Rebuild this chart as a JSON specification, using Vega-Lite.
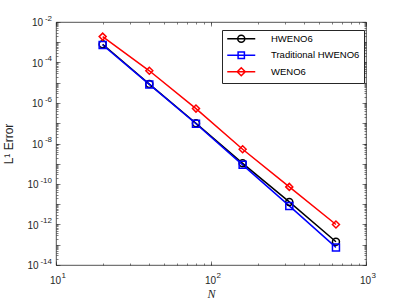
{
  "$schema": "https://vega.github.io/schema/vega-lite/v6.json",
  "width": 310,
  "height": 243,
  "autosize": {"type": "none"},
  "padding": {"left": 56, "top": 22, "right": 39, "bottom": 39},
  "background": "white",
  "config": {
    "view": {"stroke": "#262626", "strokeWidth": 0.8},
    "axis": {
      "domain": false,
      "grid": false,
      "labelFont": "Liberation Sans",
      "labelFontSize": 10,
      "labelColor": "#262626",
      "labelOverlap": false,
      "labelFlush": false,
      "labelBound": false,
      "tickColor": "#262626",
      "tickWidth": 0.6,
      "titleFont": "Liberation Sans",
      "titleFontWeight": "normal",
      "titleColor": "#262626"
    }
  },
  "data": {
    "values": [
      {"N": 20, "err": 8.0e-4, "method": "HWENO6"},
      {"N": 40, "err": 8.6e-6, "method": "HWENO6"},
      {"N": 80, "err": 1.0e-7, "method": "HWENO6"},
      {"N": 160, "err": 1.05e-9, "method": "HWENO6"},
      {"N": 320, "err": 1.3e-11, "method": "HWENO6"},
      {"N": 640, "err": 1.4e-13, "method": "HWENO6"},
      {"N": 20, "err": 7.3e-4, "method": "Traditional HWENO6"},
      {"N": 40, "err": 8.3e-6, "method": "Traditional HWENO6"},
      {"N": 80, "err": 9.5e-8, "method": "Traditional HWENO6"},
      {"N": 160, "err": 8.8e-10, "method": "Traditional HWENO6"},
      {"N": 320, "err": 8.3e-12, "method": "Traditional HWENO6"},
      {"N": 640, "err": 7.4e-14, "method": "Traditional HWENO6"},
      {"N": 20, "err": 1.9e-3, "method": "WENO6"},
      {"N": 40, "err": 3.9e-5, "method": "WENO6"},
      {"N": 80, "err": 5.3e-7, "method": "WENO6"},
      {"N": 160, "err": 5.2e-9, "method": "WENO6"},
      {"N": 320, "err": 7.2e-11, "method": "WENO6"},
      {"N": 640, "err": 1.0e-12, "method": "WENO6"}
    ]
  },
  "layer": [
    {
      "mark": {"type": "point", "opacity": 0},
      "encoding": {
        "x": {"field": "N", "type": "quantitative",
          "scale": {"type": "log", "domain": [10, 1000], "nice": false},
          "axis": {"orient": "bottom", "tickCount": 20, "labels": false, "tickSize": -2, "title": null}},
        "y": {"field": "err", "type": "quantitative",
          "scale": {"type": "log", "domain": [1e-14, 1e-2], "nice": false},
          "axis": {"orient": "left", "tickCount": 100, "labels": false, "tickSize": -2, "title": null}}
      }
    },
    {
      "mark": {"type": "point", "opacity": 0},
      "encoding": {
        "x": {"field": "N", "type": "quantitative",
          "axis": {"orient": "top", "tickCount": 20, "labels": false, "tickSize": -2, "title": null}},
        "y": {"field": "err", "type": "quantitative",
          "axis": {"orient": "right", "tickCount": 100, "labels": false, "tickSize": -2, "title": null}}
      }
    },
    {
      "mark": {"type": "point", "opacity": 0},
      "encoding": {
        "x": {"field": "N", "type": "quantitative",
          "axis": {"orient": "bottom", "values": [10, 100, 1000], "ticks": false, "tickSize": 0,
            "labelFontSize": 8, "labelAlign": "left", "labelBaseline": "alphabetic", "labelPadding": 12.5, "labelOffset": 5,
            "labelExpr": "'' + round(log(datum.value)/LN10)", "title": null}},
        "y": {"field": "err", "type": "quantitative",
          "axis": {"orient": "left", "values": [1e-14, 1e-12, 1e-10, 1e-8, 1e-6, 1e-4, 1e-2], "ticks": false, "tickSize": 0,
            "labelFontSize": 8, "labelAlign": "right", "labelBaseline": "middle", "labelPadding": 4.5, "labelOffset": -4,
            "labelExpr": "'-' + abs(round(log(datum.value)/LN10))", "title": null}}
      }
    },
    {
      "mark": {"type": "line", "strokeWidth": 1.5},
      "encoding": {
        "x": {"field": "N", "type": "quantitative",
          "axis": {"orient": "bottom", "values": [10, 100, 1000], "tickSize": -4, "labelPadding": 22,
            "labelAlign": "center", "labelBaseline": "alphabetic", "labelOffset": -1,
            "labelExpr": "'10'",
            "title": "N", "titleFont": "Liberation Serif", "titleFontStyle": "italic", "titleFontSize": 12, "titlePadding": 3}},
        "y": {"field": "err", "type": "quantitative",
          "axis": {"orient": "left", "values": [1e-14, 1e-13, 1e-12, 1e-11, 1e-10, 1e-9, 1e-8, 1e-7, 1e-6, 1e-5, 1e-4, 1e-3, 1e-2],
            "tickSize": -4, "labelAlign": "right", "labelBaseline": "middle", "labelOffset": 0.5,
            "labelPadding": {"condition": {"test": "datum.value < 1e-9", "value": 22}, "value": 17.5},
            "labelExpr": "round(log(datum.value)/LN10) % 2 != 0 ? '' : '10'",
            "title": "L¹ Error", "titleFontSize": 12, "titlePadding": 11}},
        "color": {"field": "method", "type": "nominal",
          "scale": {"domain": ["HWENO6", "Traditional HWENO6", "WENO6"], "range": ["#000000", "#0000ff", "#ff0000"]},
          "legend": {
            "title": null, "orient": "none", "legendX": 166, "legendY": 8,
            "strokeColor": "#262626", "fillColor": "white", "padding": 4,
            "labelFont": "Liberation Sans", "labelFontSize": 9.5, "labelColor": "#000000",
            "symbolSize": 49, "symbolStrokeWidth": 1.5, "symbolOffset": 10.5, "labelOffset": 25, "rowPadding": 2.5,
            "symbolFillColor": "transparent",
            "encode": {"symbols": {"update": {"shape": {"signal": "datum.value == 'HWENO6' ? 'M-4,0L4,0M-1,0A1,1 0 1,1 1,0A1,1 0 1,1 -1,0' : datum.value == 'WENO6' ? 'M-4,0L4,0M0,-1.15L1.15,0L0,1.15L-1.15,0Z' : 'M-4,0L4,0M-0.9,-0.9L0.9,-0.9L0.9,0.9L-0.9,0.9Z'"}}}}
          }}
      }
    },
    {
      "mark": {"type": "point", "filled": false, "strokeWidth": 1.5, "size": 49, "opacity": 1},
      "encoding": {
        "x": {"field": "N", "type": "quantitative",
          "axis": {"orient": "top", "values": [10, 100, 1000], "labels": false, "tickSize": -4, "title": null}},
        "y": {"field": "err", "type": "quantitative",
          "axis": {"orient": "right", "values": [1e-14, 1e-13, 1e-12, 1e-11, 1e-10, 1e-9, 1e-8, 1e-7, 1e-6, 1e-5, 1e-4, 1e-3, 1e-2], "labels": false, "tickSize": -4, "title": null}},
        "color": {"field": "method", "type": "nominal", "legend": null},
        "shape": {"field": "method", "type": "nominal",
          "scale": {"domain": ["HWENO6", "Traditional HWENO6", "WENO6"], "range": ["circle", "square", "diamond"]},
          "legend": null}
      }
    }
  ],
  "resolve": {"axis": {"x": "independent", "y": "independent"}, "legend": {"color": "independent", "shape": "independent"}}
}
